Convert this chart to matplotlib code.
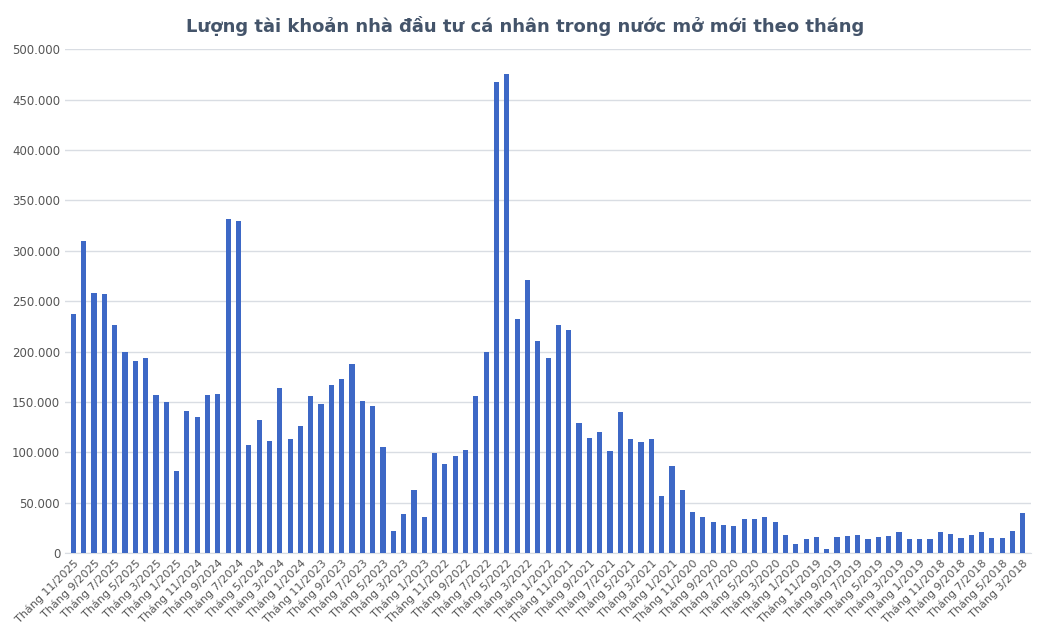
import matplotlib.pyplot as plt
from matplotlib.ticker import FuncFormatter

# months from 11/2025 back to 3/2018
months = []
for y in range(2025, 2017, -1):
    start = 11 if y == 2025 else 12
    end = 3 if y == 2018 else 1
    for m in range(start, end - 1, -1):
        months.append(f"Tháng {m}/{y}")

# thousands of accounts
values_k = [
    237, 310, 258, 257, 226, 200, 191, 194, 157, 150, 81,
    141, 135, 157, 158, 331, 330, 107, 132, 111, 164, 113, 126,
    156, 148, 167, 173, 188, 151, 146, 105, 22, 39, 63, 36,
    99, 88, 96, 102, 156, 200, 467, 475, 232, 271, 210, 194,
    226, 221, 129, 114, 120, 101, 140, 113, 110, 113, 57, 86,
    63, 41, 36, 31, 28, 27, 34, 34, 36, 31, 18, 9,
    14, 16, 4, 16, 17, 18, 14, 16, 17, 21, 14, 14,
    14, 21, 19, 15, 18, 21, 15, 15, 22, 40,
]
values = [v * 1000 for v in values_k]

fig = plt.figure(figsize=(10.5, 6.3), dpi=100)
ax = fig.add_axes([0.062, 0.122, 0.92, 0.8]) 
x = range(len(values))
ax.bar(x, values, width=0.5, color='#3d68c6', zorder=3)
ax.set_xlim(-0.8, len(values) - 0.2)
ax.set_ylim(0, 500000)
ax.set_yticks(range(0, 500001, 50000))
ax.yaxis.set_major_formatter(FuncFormatter(lambda v, p: f"{int(v):,}".replace(",", ".")))
ax.grid(axis='y', color='#d9dde3', linewidth=1, zorder=0)
ax.set_xticks(list(x)[::2])
ax.set_xticklabels(months[::2], rotation=45, ha='right', rotation_mode='anchor', fontsize=8, color='#555555')
ax.tick_params(axis='y', labelsize=8.5, colors='#555555', length=0)
ax.tick_params(axis='x', length=0)
for s in ['top', 'right', 'left']:
    ax.spines[s].set_visible(False)
ax.spines['bottom'].set_color('#d9dde3')
fig.suptitle('Lượng tài khoản nhà đầu tư cá nhân trong nước mở mới theo tháng',
             fontsize=13, fontweight='bold', color='#44546a', y=0.975)
fig.savefig('out.png')
